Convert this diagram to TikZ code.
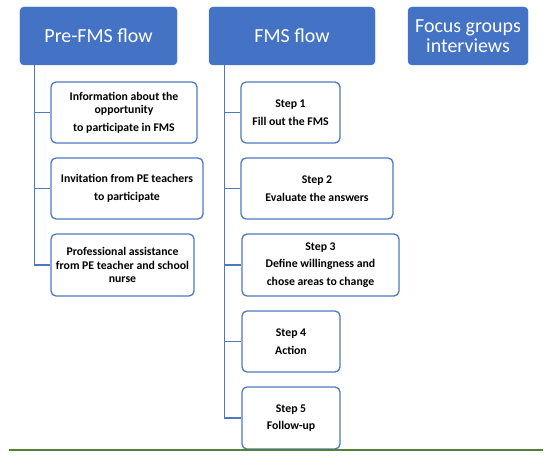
\documentclass[tikz,border=0pt]{standalone}
\usepackage{fontspec}
\setmainfont{Carlito}
\definecolor{hdrblue}{HTML}{4472C4}
\definecolor{boxblue}{HTML}{5078C0}
\definecolor{linegreen}{HTML}{548235}
\begin{document}
\begin{tikzpicture}[x=1bp,y=-1bp,
  header/.style={draw=hdrblue, fill=hdrblue, rounded corners=4bp, inner sep=0pt,
    text=white, align=center, font=\fontsize{20}{21}\selectfont},
  itembox/.style={draw=boxblue, line width=1.3bp, fill=white, rounded corners=5bp,
    inner sep=0pt, align=center, minimum height=61bp,
    font=\bfseries\fontsize{11.8}{17.5}\selectfont},
  link/.style={draw=boxblue, line width=1.1bp},
]
\useasboundingbox (0,0) rectangle (550,457);
\node[header, minimum width=157bp, minimum height=58bp] (pre) at (98.5,36) {Pre-FMS flow};
\node[header, minimum width=166bp, minimum height=58bp] (fms) at (292,36) {FMS flow};
\node[header, minimum width=120bp, minimum height=58bp] (focus) at (468,36) {Focus groups\\[-1bp]interviews};

\node[itembox, minimum width=146bp] (p1) at (124,112.5) {Information about the\\[-4bp]opportunity\\to participate in FMS};
\node[itembox, minimum width=152bp] (p2) at (127,188.5) {Invitation from PE teachers\\to participate};
\node[itembox, minimum width=143bp, minimum height=62bp, font=\bfseries\fontsize{11.8}{13.5}\selectfont] (p3) at (122.5,265) {Professional assistance\\from PE teacher and school\\nurse};

\node[itembox, minimum width=99bp] (s1) at (290.5,112.5) {Step 1\\Fill out the FMS};
\node[itembox, minimum width=152bp] (s2) at (317,188.5) {Step 2\\Evaluate the answers};
\node[itembox, minimum width=157bp, minimum height=62bp] (s3) at (320.5,265) {Step 3\\Define willingness and\\chose areas to change};
\node[itembox, minimum width=98bp] (s4) at (291,341.5) {Step 4\\Action};
\node[itembox, minimum width=98bp, minimum height=62bp] (s5) at (291,418) {Step 5\\Follow-up};

\coordinate (pretop) at ([xshift=15bp]pre.south west);
\coordinate (fmstop) at ([xshift=16bp]fms.south west);
\foreach \b in {p1,p2,p3} \draw[link] (pretop) |- (\b.west);
\foreach \b in {s1,s2,s3,s4,s5} \draw[link] (fmstop) |- (\b.west);

\coordinate (gl) at (9,450);
\coordinate (gr) at (543,450);
\draw[linegreen, line width=1.6bp] (gl) -- (gr);
\end{tikzpicture}
\end{document}
